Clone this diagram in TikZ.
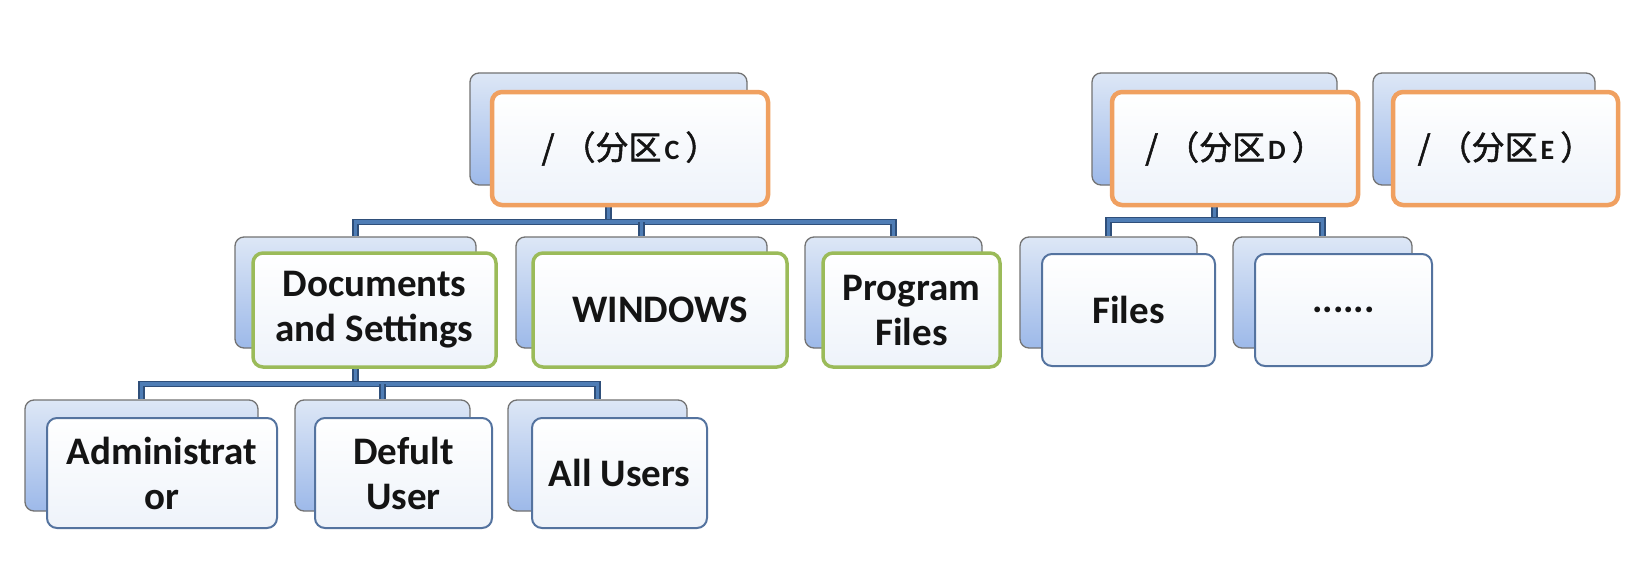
\documentclass[tikz,border=0pt]{standalone}
\usepackage{fontspec}
\setmainfont{Carlito}
\newfontfamily\cjkfont[AutoFakeBold=1.6]{Noto Sans CJK SC}
\usetikzlibrary{backgrounds}
\definecolor{bbtop}{HTML}{DDE7F6}
\definecolor{bbbot}{HTML}{9DB9E9}
\definecolor{ftbot}{HTML}{EEF3FA}
\definecolor{orangeb}{HTML}{F0A060}
\definecolor{greenb}{HTML}{9BBB59}
\definecolor{blueb}{HTML}{54739F}
\definecolor{connedge}{HTML}{2F4F7A}
\definecolor{connfill}{HTML}{4F7DB5}
\definecolor{txt}{HTML}{141414}
\tikzset{
  backbox/.style={rectangle, rounded corners=9pt, draw=black!55, line width=1.3pt,
    top color=bbtop, bottom color=bbbot, inner sep=0pt},
  frontbase/.style={rectangle, rounded corners=10pt, top color=white, bottom color=ftbot,
    inner sep=0pt, align=center, text=txt,
    font=\fontsize{39}{45}\selectfont\bfseries},
  lvlone/.style={frontbase, draw=orangeb, line width=4.5pt,
    font=\cjkfont\bfseries\fontsize{33}{38}\selectfont},
  lvltwo/.style={frontbase, draw=greenb, line width=3.5pt},
  lvlthree/.style={frontbase, draw=blueb, line width=2pt},
  conn/.style={draw=connedge, line width=1.5pt, double=connfill, double distance=3.6pt}
}
\newcommand\partlabel[1]{/\hspace{8pt}（分区\hspace{3pt}{\rmfamily\bfseries\fontsize{28}{28}\selectfont #1}\hspace{6pt}）}
\begin{document}
\begin{tikzpicture}[x=1pt,y=-1pt]
\useasboundingbox (0,0) rectangle (1628,578);
% level 1
\node[backbox, minimum width=277, minimum height=112] (Cb) at (608.5,129) {};
\node[lvlone, minimum width=276, minimum height=113] (Cf) at (630,148.5) {\partlabel{C}};
\node[backbox, minimum width=245, minimum height=112] (Db) at (1214.5,129) {};
\node[lvlone, minimum width=246, minimum height=113] (Df) at (1235,148.5) {\partlabel{D}};
\node[backbox, minimum width=222, minimum height=112] (Eb) at (1484,129) {};
\node[lvlone, minimum width=225, minimum height=113] (Ef) at (1505.5,148.5) {\partlabel{E}};
% level 2
\node[backbox, minimum width=241, minimum height=111] (Docb) at (355.5,292.5) {};
\node[lvltwo, minimum width=243, minimum height=114] (Docf) at (374.5,310) {Documents\\and Settings};
\node[backbox, minimum width=251, minimum height=111] (Winb) at (641.5,292.5) {};
\node[lvltwo, minimum width=254, minimum height=114] (Winf) at (660,310) {WINDOWS};
\node[backbox, minimum width=177, minimum height=111] (Prgb) at (893.5,292.5) {};
\node[lvltwo, minimum width=177, minimum height=114] (Prgf) at (911.5,310) {Program\\Files};
\node[backbox, minimum width=177, minimum height=111] (Filb) at (1108.5,292.5) {};
\node[lvlthree, minimum width=173, minimum height=112] (Filf) at (1128.5,310) {Files};
\node[backbox, minimum width=179, minimum height=111] (Dotb) at (1322.5,292.5) {};
\node[lvlthree, minimum width=177, minimum height=112] (Dotf) at (1343.5,310) {......};
% level 3
\node[backbox, minimum width=233, minimum height=111] (Admb) at (141.5,455.5) {};
\node[lvlthree, minimum width=230, minimum height=110] (Admf) at (162,473) {Administrat\\or};
\node[backbox, minimum width=175, minimum height=111] (Defb) at (382.5,455.5) {};
\node[lvlthree, minimum width=177, minimum height=110] (Deff) at (403.5,473) {Defult\\User};
\node[backbox, minimum width=179, minimum height=111] (Allb) at (597.5,455.5) {};
\node[lvlthree, minimum width=175, minimum height=110] (Allf) at (619.5,473) {All Users};
\coordinate (busC) at (0,222);
\coordinate (busD) at (0,220);
\coordinate (busS) at (0,384);
\begin{scope}[on background layer]
\fill[white] (0,0) rectangle (1628,578);
\draw[conn] (Cb.center |- Cf.south) -- (Cb.center |- busC);
\draw[conn] (Docb.north) -- (Docb.north |- busC) -- (Prgb.north |- busC) -- (Prgb.north);
\draw[conn] (Winb.north) -- (Winb.north |- busC);
\draw[conn] (Db.center |- Df.south) -- (Db.center |- busD);
\draw[conn] (Filb.north) -- (Filb.north |- busD) -- (Dotb.north |- busD) -- (Dotb.north);
\draw[conn] (Docb.center |- Docf.south) -- (Docb.center |- busS);
\draw[conn] (Admb.north) -- (Admb.north |- busS) -- (Allb.north |- busS) -- (Allb.north);
\draw[conn] (Defb.north) -- (Defb.north |- busS);
\end{scope}
\end{tikzpicture}
\end{document}
